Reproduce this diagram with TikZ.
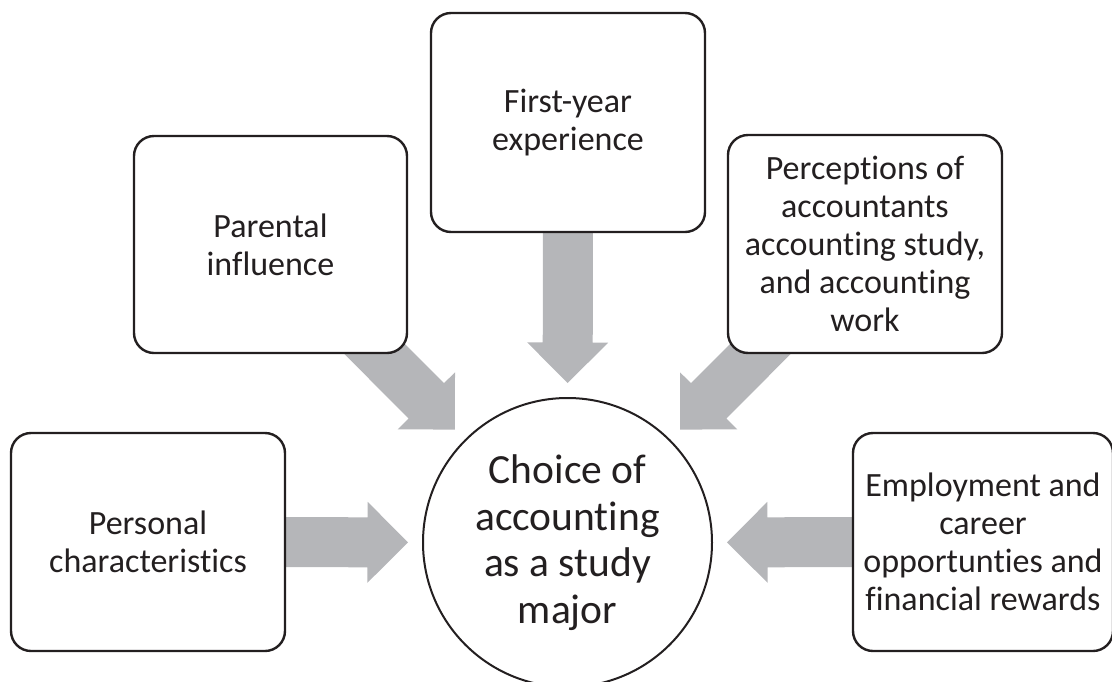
\documentclass[tikz,border=0pt]{standalone}
\usepackage{fontspec}
\setmainfont[Ligatures={NoCommon,NoContextual}]{Carlito}
\usetikzlibrary{calc}
\pgfdeclarelayer{bg}
\pgfsetlayers{bg,main}
\definecolor{arrowgray}{RGB}{181,182,185}
\definecolor{ink}{RGB}{35,31,32}
\tikzset{
  factor/.style={draw=ink, line width=2.4pt, rounded corners=20pt, fill=white,
    text=ink, align=center, inner sep=0pt,
    font=\fontsize{34}{38}\selectfont},
  outcome/.style={circle, draw=ink, line width=2pt, fill=white, text=ink,
    align=center, inner sep=0pt, minimum size=289pt,
    font=\fontsize{41.5}{46.5}\selectfont},
  arrowfill/.style={fill=arrowgray}
}
% block arrow from the centre of #1 towards #2, stopping 15pt short of #2's rim
\newcommand{\blockarr}[2]{%
  \path ($(#2)!159.5pt!(#1)$) coordinate (tip)
        ($(tip)!40.5pt!(#1)$) coordinate (hb);
  \fill[arrowfill] ($(#1)!25pt!90:(tip)$) -- ($(hb)!25pt!90:(tip)$)
     -- ($(hb)!40.5pt!90:(tip)$) -- (tip) -- ($(hb)!40.5pt!-90:(tip)$)
     -- ($(hb)!25pt!-90:(tip)$) -- ($(#1)!25pt!-90:(tip)$) -- cycle;}
\begin{document}
\begin{tikzpicture}[x=1pt,y=-1pt]
\clip (0,0) rectangle (1112,681);

\node[outcome] (choice) at (567.5,542.5) {Choice of\\accounting\\as a study\\major};

\node[factor, minimum width=274pt, minimum height=219pt] (first) at (568,122.5)
  {First-year\\experience};
\node[factor, minimum width=273pt, minimum height=217pt] (parent) at (270.5,244.5)
  {Parental\\influence};
\node[factor, minimum width=274pt, minimum height=218pt] (percep) at (865,244)
  {Perceptions of\\accountants\\accounting study,\\and accounting\\work};
\node[factor, minimum width=274pt, minimum height=218pt] (personal) at (148,542)
  {Personal\\characteristics};
\node[factor, minimum width=260pt, minimum height=218pt] (employ) at (983,542)
  {Employment and\\career\\opportunties and\\financial rewards};

\begin{pgfonlayer}{bg}
  \blockarr{first}{choice}
  \blockarr{parent}{choice}
  \blockarr{percep}{choice}
  \blockarr{personal}{choice}
  \blockarr{employ}{choice}
\end{pgfonlayer}
\end{tikzpicture}
\end{document}
